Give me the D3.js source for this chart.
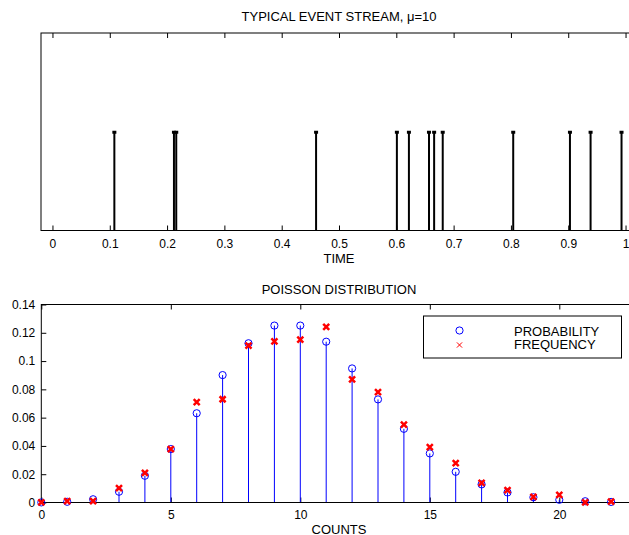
<!DOCTYPE html>
<html>
<head>
<meta charset="utf-8">
<script src="https://cdn.jsdelivr.net/npm/d3@7"></script>
<style>
  body { margin: 0; background: #fff; }
  svg { display: block; font-family: "Liberation Sans", Arial, sans-serif; }
  .axis path, .axis line { stroke: #000; }
  .axis text { font-size: 12px; fill: #000; font-family: "Liberation Sans", Arial, sans-serif; }
</style>
</head>
<body>
<div id="chart"></div>
<script>
// event times
const eventTimes = [0.108, 0.212, 0.216, 0.46, 0.601, 0.622, 0.657, 0.666, 0.681, 0.804, 0.903, 0.939, 0.993];
const timeTicks = [0, 0.1, 0.2, 0.3, 0.4, 0.5, 0.6, 0.7, 0.8, 0.9, 1];

// bottom panel
const counts = d3.range(0, 23);
const probability = [0.00005, 0.0005, 0.0023, 0.0076, 0.0189, 0.0378, 0.0631, 0.0901, 0.1126, 0.1251, 0.1251,
  0.1137, 0.0948, 0.0729, 0.0521, 0.0347, 0.0217, 0.0128, 0.0071, 0.0037, 0.0019, 0.0009, 0.0004];
const frequency = [0.0001, 0.001, 0.001, 0.0101, 0.021, 0.0378, 0.071, 0.073, 0.111, 0.114, 0.1152,
  0.1242, 0.0871, 0.078, 0.055, 0.0392, 0.0278, 0.0139, 0.0087, 0.004, 0.0054, 0.0001, 0.0006];
const countTicks = [0, 5, 10, 15, 20];
const probTicks = [0, 0.02, 0.04, 0.06, 0.08, 0.1, 0.12, 0.14];

const W = 629, H = 535;
const svg = d3.select("#chart").append("svg").attr("width", W).attr("height", H);
const fmt = d3.format("~g");

// ---------- top: event stream ----------
const m1 = {left: 41, right: 637, top: 33, bottom: 230.5};
const xt = d3.scaleLinear().domain([-0.02, 1.02]).range([m1.left, m1.right]);
const yt = d3.scaleLinear().domain([0, 1]).range([m1.bottom, m1.top]);

const g1 = svg.append("g");
g1.append("rect")
    .attr("x", m1.left).attr("y", m1.top)
    .attr("width", m1.right - m1.left).attr("height", m1.bottom - m1.top)
    .attr("fill", "none").attr("stroke", "#000");

g1.append("g").attr("class", "axis")
    .attr("transform", "translate(0," + m1.bottom + ")")
    .call(d3.axisBottom(xt).tickValues(timeTicks).tickFormat(fmt).tickSize(-5).tickPadding(9.3))
    .select(".domain").remove();
g1.append("g").attr("class", "axis")
    .attr("transform", "translate(0," + m1.top + ")")
    .call(d3.axisTop(xt).tickValues(timeTicks).tickFormat("").tickSize(-5))
    .select(".domain").remove();

g1.selectAll(".ev").data(eventTimes).enter().append("line")
    .attr("x1", d => xt(d)).attr("x2", d => xt(d))
    .attr("y1", yt(0)).attr("y2", yt(0.5))
    .attr("stroke", "#000").attr("stroke-width", 2);
g1.selectAll(".evm").data(eventTimes).enter().append("rect")
    .attr("x", d => xt(d) - 2).attr("y", yt(0.5) - 1)
    .attr("width", 4).attr("height", 3)
    .attr("fill", "#000");

svg.append("text").attr("x", 339).attr("y", 21).attr("text-anchor", "middle")
    .attr("font-size", 13).text("TYPICAL EVENT STREAM, \u03bc=10");
svg.append("text").attr("x", 339).attr("y", 262.7).attr("text-anchor", "middle")
    .attr("font-size", 13).text("TIME");

// ---------- bottom: poisson distribution ----------
const m2 = {left: 41.3, right: 637, top: 304.5, bottom: 502.5};
const xb = d3.scaleLinear().domain([0, 23]).range([m2.left, m2.right]);
const yb = d3.scaleLinear().domain([0, 0.14]).range([m2.bottom, m2.top]);

const g2 = svg.append("g");

g2.append("g").attr("class", "axis")
    .attr("transform", "translate(0," + m2.bottom + ")")
    .call(d3.axisBottom(xb).tickValues(countTicks).tickFormat(fmt).tickSize(-5).tickPadding(8.3))
    .select(".domain").remove();
g2.append("g").attr("class", "axis")
    .attr("transform", "translate(0," + m2.top + ")")
    .call(d3.axisTop(xb).tickValues(countTicks).tickFormat("").tickSize(-5))
    .select(".domain").remove();
g2.append("g").attr("class", "axis")
    .attr("transform", "translate(" + m2.left + ",0)")
    .call(d3.axisLeft(yb).tickValues(probTicks).tickFormat(fmt).tickSize(-5).tickPadding(6))
    .select(".domain").remove();

const pts = counts.map((c, i) => ({c: c, p: probability[i], f: frequency[i]}));

g2.selectAll(".stem").data(pts).enter().append("line")
    .attr("x1", d => xb(d.c)).attr("x2", d => xb(d.c))
    .attr("y1", yb(0)).attr("y2", d => yb(d.p))
    .attr("stroke", "#0000ff").attr("stroke-width", 1);

g2.append("rect")
    .attr("x", m2.left).attr("y", m2.top)
    .attr("width", m2.right - m2.left).attr("height", m2.bottom - m2.top)
    .attr("fill", "none").attr("stroke", "#000");

g2.selectAll(".prob").data(pts).enter().append("circle")
    .attr("cx", d => xb(d.c)).attr("cy", d => yb(d.p)).attr("r", 3.6)
    .attr("fill", "none").attr("stroke", "#0000ff").attr("stroke-width", 1);

const xMark = (sel, s) => sel.attr("d", "M" + (-s) + "," + (-s) + "L" + s + "," + s + "M" + (-s) + "," + s + "L" + s + "," + (-s));
g2.selectAll(".freq").data(pts).enter().append("path")
    .attr("transform", d => "translate(" + xb(d.c) + "," + yb(d.f) + ")")
    .call(xMark, 3)
    .attr("fill", "none").attr("stroke", "#ff0000").attr("stroke-width", 2.5);

// legend
const lg = svg.append("g");
lg.append("rect").attr("x", 423.5).attr("y", 316).attr("width", 198).attr("height", 42)
    .attr("fill", "#fff").attr("stroke", "#000");
lg.append("circle").attr("cx", 459.5).attr("cy", 330.5).attr("r", 3.6)
    .attr("fill", "none").attr("stroke", "#0000ff");
lg.append("path").attr("transform", "translate(459.5,345)").call(xMark, 2.6)
    .attr("fill", "none").attr("stroke", "#ff0000").attr("stroke-width", 1);
lg.append("text").attr("x", 514).attr("y", 336).attr("font-size", 13).text("PROBABILITY");
lg.append("text").attr("x", 514).attr("y", 348.7).attr("font-size", 13).text("FREQUENCY");

svg.append("text").attr("x", 339).attr("y", 294.3).attr("text-anchor", "middle")
    .attr("font-size", 13).text("POISSON DISTRIBUTION");
svg.append("text").attr("x", 339).attr("y", 534.3).attr("text-anchor", "middle")
    .attr("font-size", 13).text("COUNTS");
</script>
</body>
</html>
